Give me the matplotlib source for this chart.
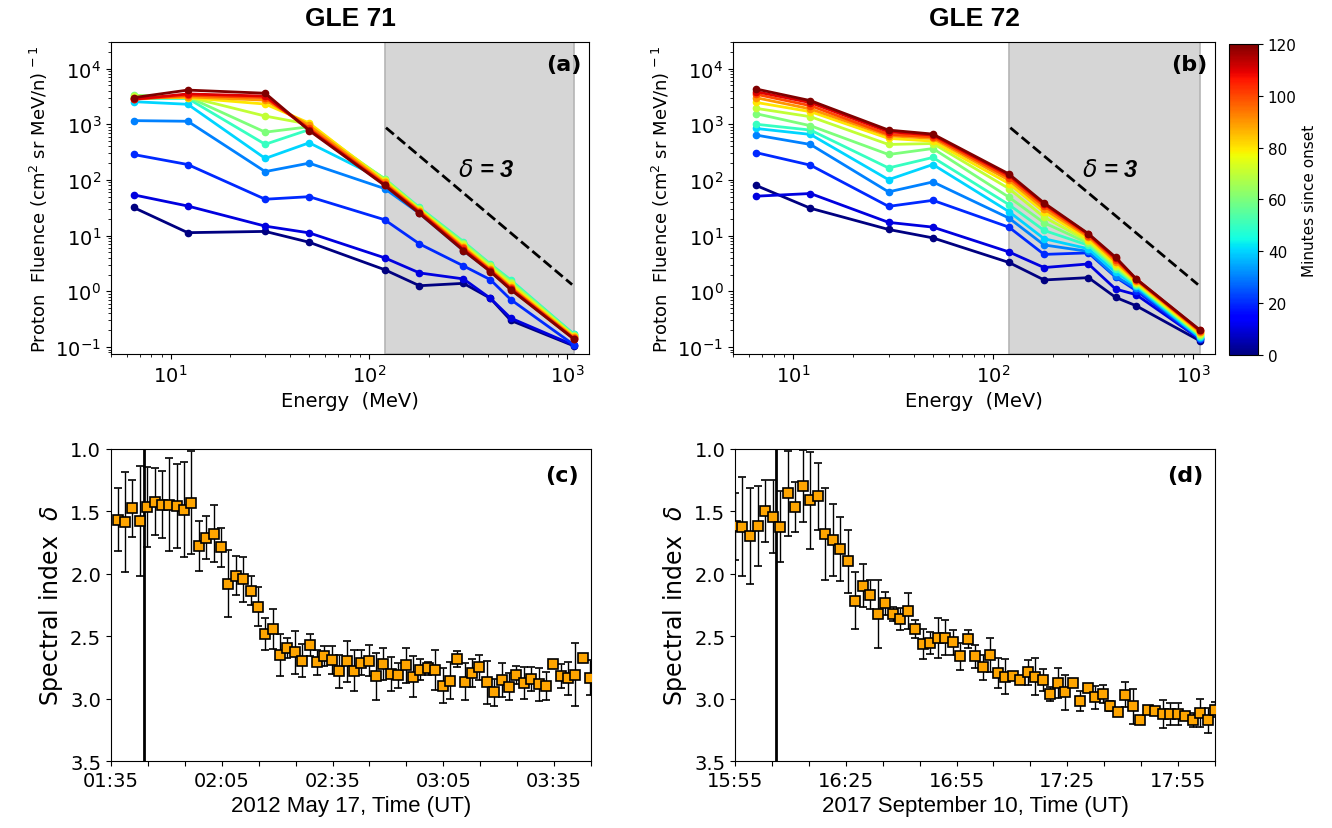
import numpy as np
import pandas as pd
import matplotlib
matplotlib.use("Agg")
from matplotlib import pyplot as plt
from matplotlib import cm, colors

# energy channels (MeV)
energy = [6.5, 12.2, 30, 50, 120, 180, 300, 410, 520, 1080]
minutes = [0, 10, 20, 30, 40, 50, 60, 70, 80, 90, 100, 110, 120]

# GLE 71 fluence spectra, one per time step
g71_000 = [32, 11.3, 11.9, 7.6, 2.45, 1.26, 1.39, 0.75, 0.30, 0.105]
g71_010 = [54, 34, 14.8, 11.2, 4.0, 2.14, 1.67, 0.75, 0.33, 0.108]
g71_020 = [286, 189, 45, 50, 19.3, 7.1, 2.86, 1.62, 0.71, 0.11]
g71_030 = [1160, 1130, 141, 200, 70, 25, 5.4, 2.3, 1.1, 0.15]
g71_040 = [2540, 2280, 243, 464, 98, 30, 7.3, 3.0, 1.5, 0.17]
g71_050 = [2900, 2900, 436, 800, 105, 32, 7.8, 3.1, 1.6, 0.17]
g71_060 = [3300, 3100, 720, 900, 105, 31, 7.5, 3.0, 1.5, 0.165]
g71_070 = [3200, 3100, 1400, 1000, 100, 30, 7.0, 2.8, 1.4, 0.16]
g71_080 = [3000, 3000, 2300, 1050, 95, 29, 6.6, 2.6, 1.3, 0.155]
g71_090 = [2900, 3100, 2700, 950, 90, 28, 6.2, 2.5, 1.2, 0.15]
g71_100 = [2800, 3300, 3000, 850, 85, 27, 5.9, 2.4, 1.15, 0.145]
g71_110 = [2800, 3500, 3200, 800, 82, 26, 5.6, 2.3, 1.1, 0.14]
g71_120 = [3000, 4100, 3600, 770, 80, 25, 5.4, 2.26, 1.07, 0.14]

# GLE 72 fluence spectra
g72_000 = [80, 31, 12.9, 9.1, 3.3, 1.6, 1.76, 0.78, 0.55, 0.13]
g72_010 = [51, 57, 17.3, 14.2, 5.1, 2.67, 3.1, 1.1, 0.87, 0.14]
g72_020 = [310, 184, 33.5, 43, 14.2, 4.6, 4.9, 1.8, 1.03, 0.14]
g72_030 = [640, 433, 61, 92, 20.7, 6.8, 5.2, 1.86, 1.13, 0.148]
g72_040 = [840, 656, 101, 189, 27, 8.8, 5.8, 2.2, 1.23, 0.15]
g72_050 = [1000, 785, 164, 253, 36, 12.4, 6.7, 2.5, 1.3, 0.16]
g72_060 = [1550, 940, 286, 366, 49, 17, 7.3, 2.7, 1.35, 0.164]
g72_070 = [1930, 1365, 433, 450, 70, 21.5, 7.9, 2.9, 1.41, 0.17]
g72_080 = [2470, 1680, 556, 497, 86, 26.5, 8.5, 3.1, 1.49, 0.177]
g72_090 = [3000, 1880, 620, 556, 99, 30, 9.4, 3.4, 1.56, 0.188]
g72_100 = [3460, 2150, 656, 595, 110, 34, 10, 3.7, 1.62, 0.195]
g72_110 = [3850, 2440, 733, 638, 121, 37, 10.6, 3.9, 1.67, 0.2]
g72_120 = [4300, 2650, 785, 665, 128, 38.5, 10.8, 4.1, 1.67, 0.204]

# spectral index time series, GLE 71 (2012 May 17)
delta71 = [1.566, 1.588, 1.475, 1.577, 1.467, 1.422, 1.446, 1.446, 1.457, 1.486,
           1.430, 1.775, 1.710, 1.678, 1.788, 2.079, 2.015, 2.042, 2.135, 2.263,
           2.482, 2.442, 2.650, 2.594, 2.629, 2.696, 2.571, 2.709, 2.656, 2.691,
           2.782, 2.701, 2.776, 2.712, 2.696, 2.822, 2.723, 2.803, 2.814, 2.731,
           2.824, 2.768, 2.757, 2.774, 2.896, 2.856, 2.683, 2.864, 2.795, 2.747,
           2.870, 2.950, 2.851, 2.904, 2.811, 2.875, 2.843, 2.886, 2.899, 2.720,
           2.816, 2.838, 2.808, 2.672, 2.832]
err71 = [0.255, 0.40, 0.23, 0.44, 0.32, 0.27, 0.27, 0.37, 0.34, 0.38,
         0.41, 0.20, 0.17, 0.23, 0.155, 0.27, 0.155, 0.18, 0.115, 0.155,
         0.13, 0.16, 0.165, 0.08, 0.17, 0.13, 0.085, 0.10, 0.08, 0.115,
         0.13, 0.165, 0.165, 0.10, 0.125, 0.19, 0.13, 0.14, 0.10, 0.14,
         0.165, 0.085, 0.05, 0.16, 0.14, 0.15, 0.065, 0.15, 0.11, 0.10,
         0.175, 0.11, 0.14, 0.11, 0.075, 0.13, 0.095, 0.13, 0.115, 0.025,
         0.095, 0.13, 0.25, 0.03, 0.14]

# spectral index time series, GLE 72 (2017 September 10)
delta72 = [1.620, 1.622, 1.694, 1.620, 1.499, 1.542, 1.622, 1.355, 1.465, 1.299,
           1.411, 1.379, 1.681, 1.729, 1.801, 1.900, 2.215, 2.095, 2.167, 2.322,
           2.237, 2.322, 2.362, 2.301, 2.442, 2.563, 2.554, 2.517, 2.514, 2.549,
           2.661, 2.522, 2.661, 2.749, 2.651, 2.798, 2.824, 2.816, 2.851, 2.790,
           2.824, 2.851, 2.963, 2.878, 2.950, 2.875, 3.017, 2.918, 2.990, 2.963,
           3.057, 3.110, 2.968, 3.062, 3.172, 3.089, 3.097, 3.124, 3.124, 3.124,
           3.137, 3.169, 3.115, 3.172, 3.091]
err72 = [0.27, 0.395, 0.385, 0.32, 0.25, 0.29, 0.285, 0.34, 0.20, 0.29,
         0.39, 0.27, 0.37, 0.29, 0.255, 0.25, 0.23, 0.17, 0.115, 0.275,
         0.09, 0.055, 0.085, 0.145, 0.07, 0.12, 0.09, 0.16, 0.14, 0.10,
         0.11, 0.075, 0.09, 0.10, 0.135, 0.12, 0.14, 0.03, 0.03, 0.10,
         0.15, 0.085, 0.055, 0.12, 0.14, 0.035, 0.08, 0.03, 0.09, 0.07,
         0.04, 0.03, 0.10, 0.14, 0.0, 0.02, 0.03, 0.11, 0.09, 0.09,
         0.03, 0.055, 0.11, 0.10, 0.06]

time71 = pd.date_range("2012-05-17 01:36:48", periods=len(delta71), freq="2min")
time72 = pd.date_range("2017-09-10 15:55:00", "2017-09-10 18:05:00", periods=len(delta72))
onset71 = pd.Timestamp("2012-05-17 01:44")
onset72 = pd.Timestamp("2017-09-10 16:06")
xlim71 = (pd.Timestamp("2012-05-17 01:35"), pd.Timestamp("2012-05-17 03:45"))
xlim72 = (pd.Timestamp("2017-09-10 15:55"), pd.Timestamp("2017-09-10 18:05"))

spectra71 = [g71_000, g71_010, g71_020, g71_030, g71_040, g71_050, g71_060,
             g71_070, g71_080, g71_090, g71_100, g71_110, g71_120]
spectra72 = [g72_000, g72_010, g72_020, g72_030, g72_040, g72_050, g72_060,
             g72_070, g72_080, g72_090, g72_100, g72_110, g72_120]

fig = plt.figure(figsize=(13.32, 8.29), dpi=100)
ax_a = fig.add_axes([0.0833, 0.5718, 0.3589, 0.3764])
ax_b = fig.add_axes([0.5503, 0.5718, 0.3619, 0.3764])
ax_c = fig.add_axes([0.0833, 0.0808, 0.3604, 0.3764])
ax_d = fig.add_axes([0.5518, 0.0808, 0.3604, 0.3764])
cax = fig.add_axes([0.9227, 0.5706, 0.0218, 0.3752])

norm = colors.Normalize(vmin=0, vmax=120)
cmap = plt.get_cmap("jet")

# power-law guide, delta = 3
e_guide = np.array([122, 1060])
f_guide = 865 * (e_guide / 122.0) ** -3

for ax, spectra, title, lab in [(ax_a, spectra71, "GLE 71", "(a)"),
                                (ax_b, spectra72, "GLE 72", "(b)")]:
    ax.axvspan(120, 1080, facecolor="#d6d6d6", edgecolor="#b5b5b5", lw=1.2, zorder=0)
    for m, s in zip(minutes, spectra):
        ax.plot(energy, s, "-o", color=cmap(norm(m)), lw=2, ms=4.5, zorder=2)
    ax.plot(e_guide, f_guide, "k--", lw=2, zorder=3)
    ax.text(0.725, 0.59, r"$\delta$ = 3", transform=ax.transAxes, fontsize=17,
            va="center", fontweight="bold", style="italic", family="Liberation Sans")
    ax.set_xscale("log")
    ax.set_yscale("log")
    ax.set_xlim(5.0, 1290)
    ax.set_ylim(0.075, 3.0e4)
    ax.set_xlabel("Energy  (MeV)", fontsize=14)
    ax.set_ylabel(r"Proton  Fluence (cm$^2$ sr MeV/n)$^{\,-1}$", fontsize=13)
    ax.set_title(title, fontsize=19, fontweight="bold", family="Liberation Sans", pad=12)
    ax.tick_params(labelsize=14)
    ax.text(0.985, 0.96, lab, transform=ax.transAxes, ha="right", va="top",
            fontsize=16, fontweight="bold")

sm = cm.ScalarMappable(norm=norm, cmap=cmap)
cb = fig.colorbar(sm, cax=cax, ticks=[0, 20, 40, 60, 80, 100, 120])
cb.set_label("Minutes since onset", fontsize=11)
cb.ax.tick_params(labelsize=11)

for ax, t, d, e, onset, xl, xlab, lab in [
        (ax_c, time71, delta71, err71, onset71, xlim71, "2012 May 17, Time (UT)", "(c)"),
        (ax_d, time72, delta72, err72, onset72, xlim72, "2017 September 10, Time (UT)", "(d)")]:
    ax.errorbar(t, d, yerr=e, fmt="s", ms=7.5, mfc="orange", mec="black", mew=1.2,
                ecolor="black", elinewidth=1, capsize=3, capthick=1, zorder=3)
    ax.axvline(onset, color="black", lw=2)
    ax.set_xlim(*xl)
    ax.set_ylim(3.5, 1.0)
    ax.set_yticks([1.0, 1.5, 2.0, 2.5, 3.0, 3.5])
    ticks = pd.date_range(xl[0], xl[1], freq="10min")
    ax.set_xticks(ticks)
    ax.set_xticklabels([tk.strftime("%H:%M") if i % 3 == 0 else "" for i, tk in enumerate(ticks)])
    ax.set_ylabel(r"Spectral index  $\delta$", fontsize=17)
    ax.set_xlabel(xlab, fontsize=16, family="Liberation Sans")
    ax.tick_params(labelsize=14)
    ax.text(0.975, 0.95, lab, transform=ax.transAxes, ha="right", va="top",
            fontsize=16, fontweight="bold")

fig.savefig("out.png", dpi=100)
